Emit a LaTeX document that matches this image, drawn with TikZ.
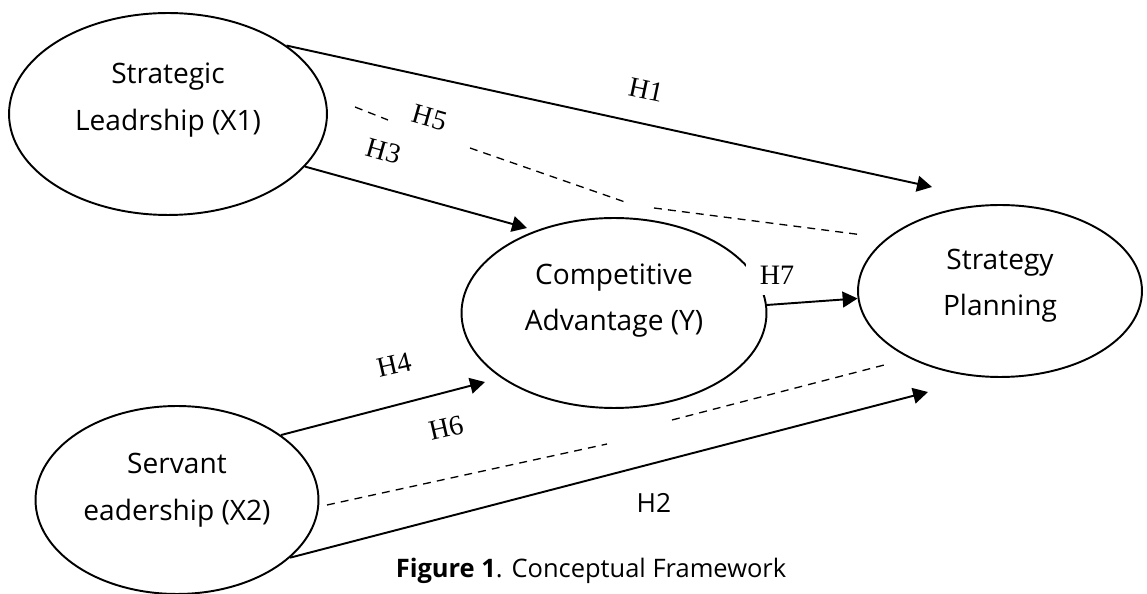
\documentclass[tikz,border=0pt]{standalone}
\usepackage{fontspec}
\setmainfont{Open Sans}
\newfontfamily\hypfont{Liberation Serif}
\usetikzlibrary{shapes.geometric,arrows.meta,positioning}

% extra depth on the last line lifts the text inside its ellipse
\newcommand{\lift}[1]{\rule[-#1]{0pt}{0pt}}

\begin{document}
\begin{tikzpicture}[x=0.02cm, y=-0.02cm,
    construct/.style={ellipse, draw=black, line width=1.1pt, inner sep=0pt, align=center, font=\fontsize{16}{26.5}\selectfont},
    pathArrow/.style={-{Triangle[length=8.5pt,width=9pt]}, line width=1.1pt},
    mediated/.style={line width=0.75pt, dash pattern=on 4.5pt off 3.5pt},
    hypo/.style={font=\hypfont\fontsize{16}{16}\selectfont, inner sep=0pt}
]
    \useasboundingbox (0,0) rectangle (1147,594);

    % constructs
    \node[construct, minimum width=6.36cm, minimum height=4.04cm] (lead) at (168,114) {Strategic\\Leadrship (X1)\lift{20pt}};
    \node[construct, minimum width=6.1cm, minimum height=3.8cm] (comp) at (614,313) {Competitive\\Advantage (Y)\lift{18pt}};
    \node[construct, minimum width=5.68cm, minimum height=3.44cm] (plan) at (1000,291) {Strategy\\Planning\lift{10pt}};
    \node[construct, minimum width=5.66cm, minimum height=3.76cm] (serv) at (177,500) {Servant\\eadership (X2)\lift{15pt}};

    % direct paths
    \coordinate (h1end) at (932,187);
    \coordinate (h3end) at (527,228);
    \coordinate (h4end) at (485,382);
    \coordinate (h2end) at (928,392);
    \draw[pathArrow] (lead.30) -- (h1end);
    \draw[pathArrow] (lead.-21) -- (h3end);
    \draw[pathArrow] (serv.32) -- (h4end);
    \draw[pathArrow] (serv.-27) -- (h2end);
    \draw[pathArrow] (comp.3) -- (plan.183);

    % mediated paths
    \coordinate (h5a) at (355,107);
    \coordinate (h5b) at (388,120);
    \coordinate (h5c) at (470,148);
    \coordinate (h5d) at (625,202);
    \coordinate (h5e) at (654,208);
    \coordinate (h5f) at (863,235);
    \draw[mediated] (h5a) -- (h5b) (h5c) -- (h5d) (h5e) -- (h5f);
    \coordinate (h6a) at (327,505);
    \coordinate (h6b) at (607,444);
    \coordinate (h6c) at (672,420);
    \coordinate (h6d) at (888,364);
    \draw[mediated] (h6a) -- (h6b) (h6c) -- (h6d);

    % hypothesis labels
    \node[hypo, rotate=-12] (lblH1) at (646,90) {H1};
    \node[hypo, rotate=-16] (lblH5) at (430,118) {H5};
    \node[hypo, rotate=-16] (lblH3) at (384,151) {H3};
    \node[hypo, rotate=13] (lblH4) at (394,365) {H4};
    \node[hypo, rotate=13] (lblH6) at (446,428) {H6};
    \node[hypo, fill=white, inner xsep=8pt, inner ysep=6pt] (lblH7) at (777,275) {H7};
    \node[font=\fontsize{15}{15}\selectfont] (lblH2) at (654,503) {H2};

    \node[font=\fontsize{14.5}{15}\selectfont] (caption) at (591,571) {\textbf{Figure 1}. Conceptual Framework};
\end{tikzpicture}
\end{document}
